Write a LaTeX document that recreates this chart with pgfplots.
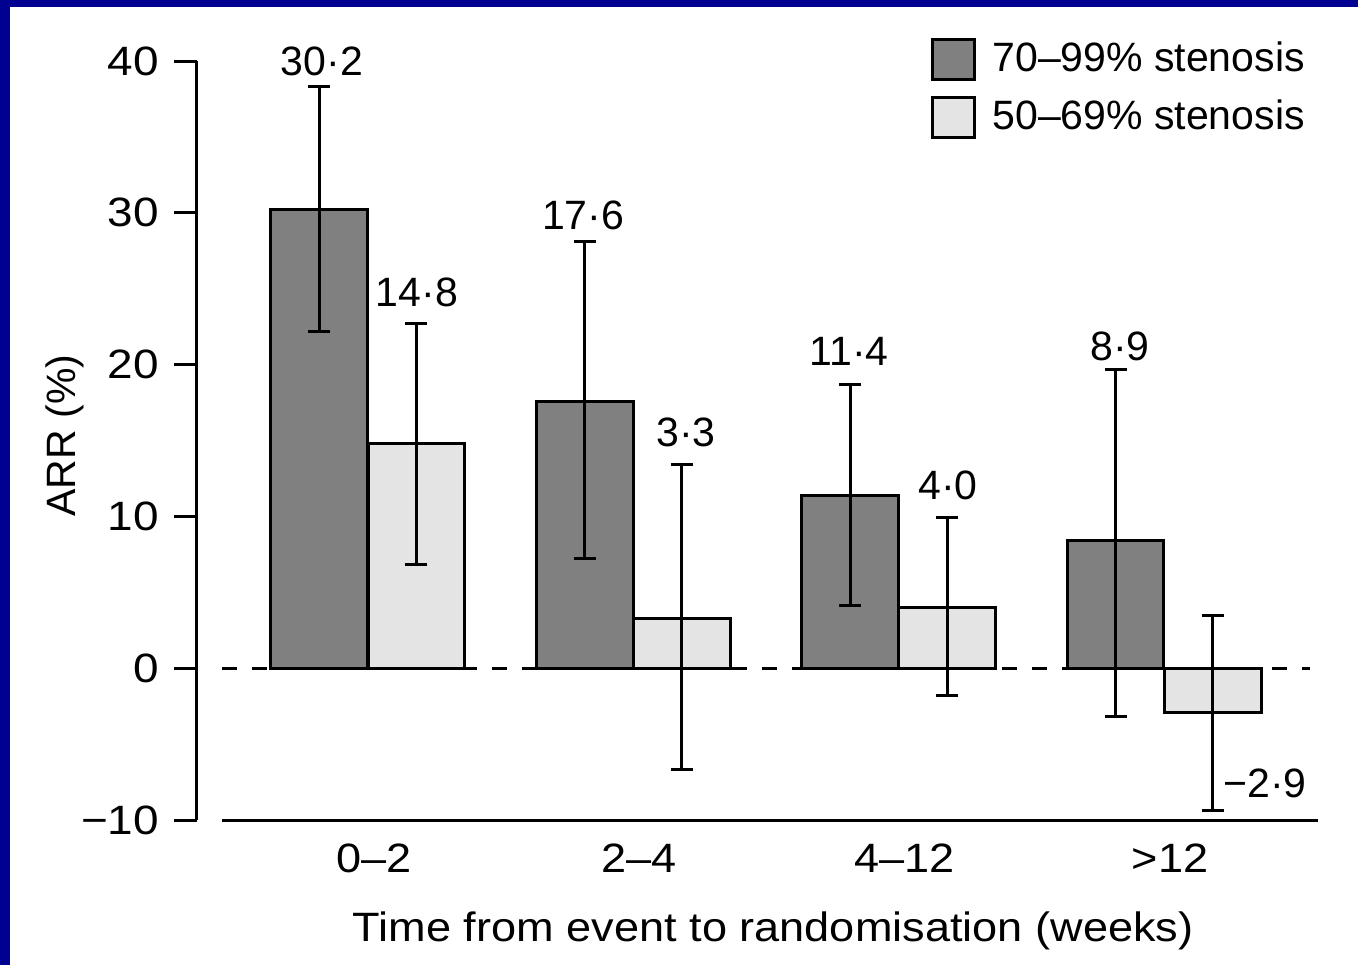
\documentclass[border=0pt]{standalone}
\usepackage{fontspec}
\setmainfont{Liberation Sans}
\newfontfamily\widefont{Liberation Sans}[FakeStretch=1.1]
\newfontfamily\tickfont{Liberation Sans}[FakeStretch=1.12]
\usepackage{pgfplots}
\pgfplotsset{compat=1.18}
\definecolor{framebl}{RGB}{0,0,145}
\definecolor{darkbar}{RGB}{128,128,128}
\definecolor{lightbar}{RGB}{228,228,228}
\begin{document}
\fontsize{20.5}{24}\selectfont
\begin{tikzpicture}
\fill[white] (-98.5pt,-72.5pt) rectangle (580.5pt,410pt);
\fill[framebl] (-98.5pt,-72.5pt) rectangle (-93.5pt,410pt);
\fill[framebl] (-98.5pt,406.5pt) rectangle (580.5pt,410pt);
\useasboundingbox (-98.5pt,-72.5pt) rectangle (580.5pt,410pt);
\begin{axis}[
  scale only axis,
  width=560.5pt, height=379.5pt,
  xmin=-0.644, xmax=3.580,
  ymin=-10, ymax=40,
  ybar, bar width=0.365, bar shift=0pt,
  axis y line*=left,
  axis x line*=bottom,
  x axis line style={draw=none},
  y axis line style={line width=1.5pt},
  xtick={0,1,2,3},
  xticklabels={0–2,2–4,4–12,>12},
  xtick style={draw=none},
  xticklabel style={yshift=6.5pt, xshift=3pt, font=\widefont},
  ytick={-10,0,10,20,30,40},
  yticklabels={−10,0,10,20,30,40},
  tick align=outside,
  ytick style={line width=1.5pt, black},
  major tick length=11.5pt,
  yticklabel style={xshift=-0.5pt, font=\tickfont},
  xlabel={Time from event to randomisation (weeks)},
  xlabel style={at={(axis description cs:0.514,0)}, anchor=center, yshift=-55.5pt, font=\widefont},
  ylabel={ARR (\%)},
  ylabel style={at={(axis description cs:0,0.5)}, anchor=center, yshift=66pt, xshift=2.5pt},
  legend style={at={(axis description cs:0.6548,1.031)}, anchor=north west,
    draw=none, fill=none, inner sep=0pt, row sep=7.5pt,
    nodes={inner sep=0pt, anchor=west}},
  legend cell align=left,
  clip=false,
]
\addplot[forget plot, sharp plot, dashed, dash pattern=on 7.5pt off 7.5pt, line width=1.4pt, black]
  coordinates {(-0.55,0) (3.55,0)};
\addplot[forget plot, sharp plot, line width=1.5pt, black]
  coordinates {(-0.55,-10) (3.58,-10)};
\addplot[fill=darkbar, draw=black, line width=1.5pt,
  legend image code/.code={\draw[fill=darkbar, draw=black, line width=1.5pt] (0pt,-10pt) rectangle (21pt,10pt);},
  error bars/.cd, y dir=both, y explicit,
  error bar style={line width=1.5pt, black},
  error mark options={line width=1.5pt, mark size=5.5pt, black, rotate=90}]
  coordinates {
  (-0.183,30.2) += (0,8.1) -= (0,8.0)
  (0.817,17.6) += (0,10.5) -= (0,10.4)
  (1.817,11.4) += (0,7.3) -= (0,7.3)
  (2.817,8.4) += (0,11.3) -= (0,11.6)
  };
\addlegendentry{\hspace*{8pt}70–99\% stenosis}
\addplot[fill=lightbar, draw=black, line width=1.5pt,
  legend image code/.code={\draw[fill=lightbar, draw=black, line width=1.5pt] (0pt,-10pt) rectangle (21pt,10pt);},
  error bars/.cd, y dir=both, y explicit,
  error bar style={line width=1.5pt, black},
  error mark options={line width=1.5pt, mark size=5.5pt, black, rotate=90}]
  coordinates {
  (0.183,14.8) += (0,7.9) -= (0,8.0)
  (1.183,3.3) += (0,10.1) -= (0,9.95)
  (2.183,4.0) += (0,5.9) -= (0,5.8)
  (3.183,-2.9) += (0,6.4) -= (0,6.5)
  };
\addlegendentry{\hspace*{8pt}50–69\% stenosis}
\node at (axis cs:-0.173,40.0) {30·2};
\node at (axis cs:0.185,24.77) {14·8};
\node at (axis cs:0.811,29.84) {17·6};
\node at (axis cs:1.199,15.55) {3·3};
\node at (axis cs:1.813,20.88) {11·4};
\node at (axis cs:2.186,12.06) {4·0};
\node at (axis cs:2.834,21.21) {8·9};
\node at (axis cs:3.380,-7.58) {−2·9};
\end{axis}
\end{tikzpicture}
\end{document}
